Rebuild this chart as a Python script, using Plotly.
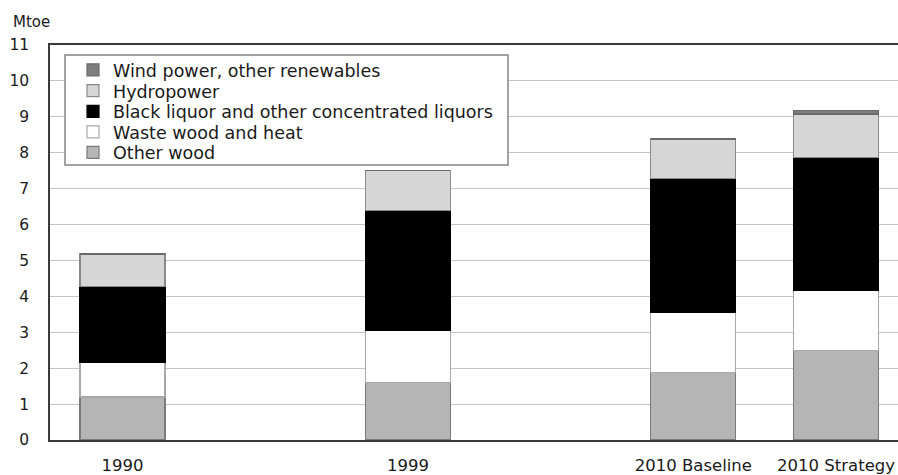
import plotly.graph_objects as go

categories = ["1990", "1999", "2010 Baseline", "2010 Strategy"]
slots = [0, 2, 4, 5]

other_wood = [1.2, 1.6, 1.88, 2.5]
waste_wood = [0.95, 1.45, 1.67, 1.67]
black_liquor = [2.12, 3.35, 3.74, 3.7]
hydropower = [0.91, 1.1, 1.09, 1.21]
wind_other = [0.0, 0.0, 0.0, 0.09]

y_ticks = list(range(0, 12))

series = [
    ("Other wood", other_wood, "#b5b5b5", "#7a7a7a"),
    ("Waste wood and heat", waste_wood, "#ffffff", "#a8a8a8"),
    ("Black liquor and other concentrated liquors", black_liquor, "#000000", "#000000"),
    ("Hydropower", hydropower, "#d6d6d6", "#8a8a8a"),
    ("Wind power, other renewables", wind_other, "#7f7f7f", "#6a6a6a"),
]

# plot area in pixels
L, T, W, H = 50, 45, 848, 395
FIG_W, FIG_H = 898, 475


def px_x(p):
    return (p - L) / W


def px_y(p):
    return (T + H - p) / H


# legend entry centre rows (px from top), top entry first
legend_rows = {
    "Wind power, other renewables": 70,
    "Hydropower": 90.8,
    "Black liquor and other concentrated liquors": 111.4,
    "Waste wood and heat": 132,
    "Other wood": 152.4,
}

fig = go.Figure()
legend_names = ["legend", "legend2", "legend3", "legend4", "legend5"]
for i, (name, vals, fill, edge) in enumerate(series):
    fig.add_trace(go.Bar(
        x=slots, y=vals, name=name, width=0.596,
        marker=dict(color=fill, line=dict(color=edge, width=1.2)),
        legend=legend_names[i],
    ))

legend_font = dict(family="DejaVu Sans, sans-serif", size=17.5, color="#1a1a1a")
layout_legends = {}
for i, (name, vals, fill, edge) in enumerate(series):
    layout_legends[legend_names[i]] = dict(
        x=px_x(73), y=px_y(legend_rows[name]),
        xanchor="left", yanchor="middle",
        bgcolor="rgba(0,0,0,0)", borderwidth=0,
        font=legend_font, itemwidth=30,
    )

fig.update_layout(
    width=FIG_W, height=FIG_H,
    barmode="stack",
    paper_bgcolor="white", plot_bgcolor="white",
    margin=dict(l=L, r=FIG_W - L - W, t=T, b=FIG_H - T - H),
    font=dict(family="DejaVu Sans, sans-serif", size=15, color="#1a1a1a"),
    showlegend=True,
    shapes=[dict(
        type="rect", xref="paper", yref="paper",
        x0=px_x(65), x1=px_x(508), y0=px_y(165), y1=px_y(55),
        fillcolor="white", line=dict(color="#858585", width=1.5), layer="above",
    )],
    annotations=[dict(
        text="Mtoe", x=px_x(11), y=px_y(22), xref="paper", yref="paper",
        showarrow=False, xanchor="left", yanchor="middle",
        font=dict(family="DejaVu Sans, sans-serif", size=15, color="#1a1a1a"),
    )],
    **layout_legends,
)

fig.update_xaxes(
    range=[-0.508, 5.434],
    tickmode="array", tickvals=slots, ticktext=categories,
    showgrid=False, zeroline=False,
    showline=True, linecolor="#3a3a3a", linewidth=1.5, mirror=True,
    ticks="", ticklabelstandoff=9, automargin=False,
    tickfont=dict(size=16.5),
)
fig.update_yaxes(
    range=[0, 11],
    tickmode="array", tickvals=y_ticks,
    showgrid=True, gridcolor="#c4c4c4", gridwidth=1,
    zeroline=False,
    showline=True, linecolor="#3a3a3a", linewidth=1.5,
    ticks="", ticklabelstandoff=16, automargin=False,
    tickfont=dict(size=15.5),
)

fig.write_html(
    "out.html",
    config={"displayModeBar": False},
    post_script="document.body.style.margin='0';document.body.style.overflow='hidden';",
)
